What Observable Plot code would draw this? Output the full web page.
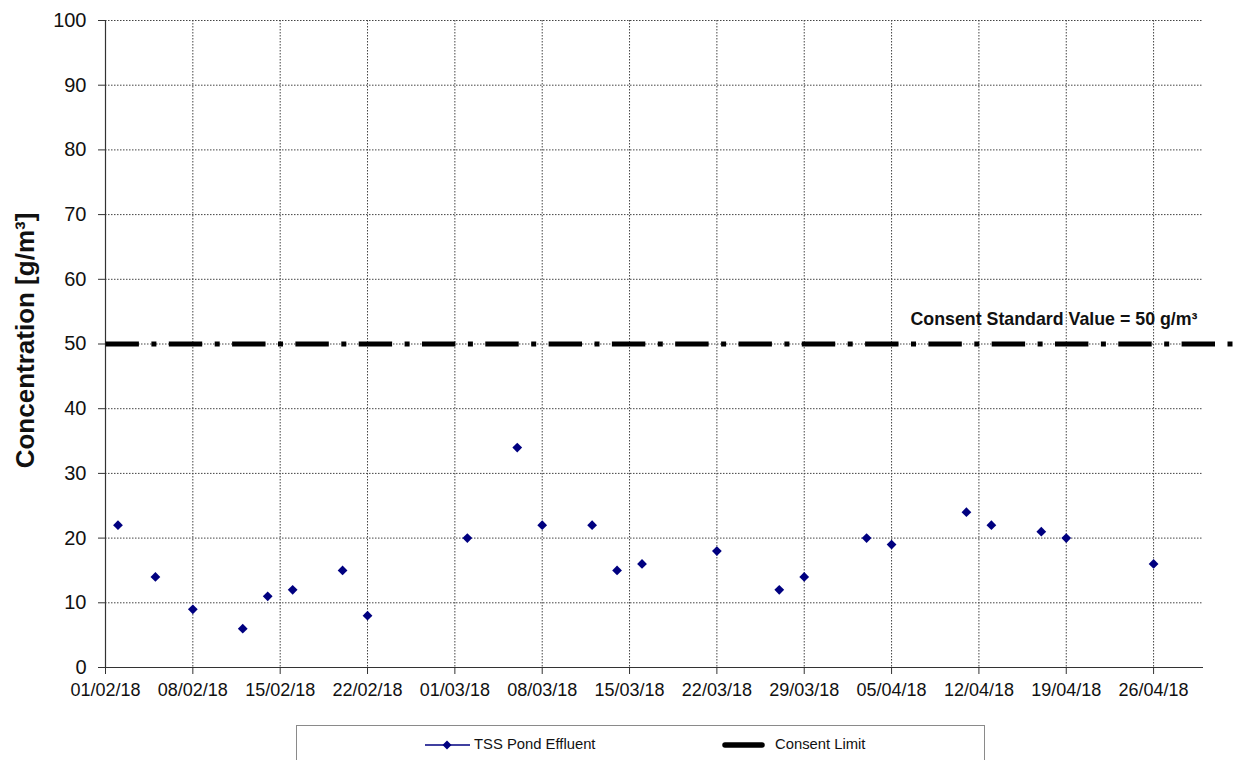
<!DOCTYPE html>
<html>
<head>
<meta charset="utf-8">
<script src="https://cdn.jsdelivr.net/npm/d3@7"></script>
<script src="https://cdn.jsdelivr.net/npm/@observablehq/plot@0.6"></script>
<style>
  html, body { margin: 0; padding: 0; background: #fff; overflow: hidden; }
  body { width: 1233px; height: 760px; position: relative; font-family: Arial, "Liberation Sans", sans-serif; }
  #chart svg { overflow: hidden; }
  #legend { position: absolute; left: 296px; top: 725px; width: 687px; height: 50px; border: 1px solid #8a8a8a; box-sizing: content-box; }
  #legend span { position: absolute; font-size: 14.8px; color: #111; white-space: nowrap; top: 10px; }
</style>
</head>
<body>
<div id="chart"></div>
<div id="legend">
  <svg style="position:absolute;left:127px;top:12px" width="48" height="14">
    <line x1="1" y1="7" x2="46" y2="7" stroke="#000080" stroke-width="1.6"></line>
    <path d="M23,2.5 L27.5,7 L23,11.5 L18.5,7 Z" fill="#000080"></path>
  </svg>
  <span style="left:177px">TSS Pond Effluent</span>
  <svg style="position:absolute;left:424px;top:12px" width="46" height="14">
    <line x1="4" y1="7" x2="41" y2="7" stroke="#000" stroke-width="5.5" stroke-linecap="round"></line>
  </svg>
  <span style="left:478px">Consent Limit</span>
</div>
<script>
// ---- data ----
const sampleDates = [
  "02/02/18", "05/02/18", "08/02/18", "12/02/18", "14/02/18", "16/02/18", "20/02/18", "22/02/18",
  "02/03/18", "06/03/18", "08/03/18", "12/03/18", "14/03/18", "16/03/18", "22/03/18", "27/03/18",
  "29/03/18", "03/04/18", "05/04/18", "11/04/18", "13/04/18", "17/04/18", "19/04/18", "26/04/18"
];
const tssValues = [
  22, 14, 9, 6, 11, 12, 15, 8,
  20, 34, 22, 22, 15, 16, 18, 12,
  14, 20, 19, 24, 22, 21, 20, 16
];
const xTickLabels = [
  "01/02/18", "08/02/18", "15/02/18", "22/02/18", "01/03/18", "08/03/18", "15/03/18",
  "22/03/18", "29/03/18", "05/04/18", "12/04/18", "19/04/18", "26/04/18"
];
const xDomainLabels = ["01/02/18", "30/04/18"];
const yTicks = [0, 10, 20, 30, 40, 50, 60, 70, 80, 90, 100];
const consentValue = 50;
const consentDates = ["01/02/18", "03/05/18"];
const consentLabel = "Consent Standard Value = 50 g/m³";
const yLabel = "Concentration [g/m³]";

// ---- build ----
const parse = d3.utcParse("%d/%m/%y");
const fmt = d3.utcFormat("%d/%m/%y");
const points = sampleDates.map((d, i) => ({date: parse(d), value: tssValues[i]}));
const xTicks = xTickLabels.map(parse);
const xDomain = xDomainLabels.map(parse);
const consent = consentDates.map(d => ({date: parse(d), value: consentValue}));

const gridStyle = {stroke: "#444", strokeOpacity: 1, strokeWidth: 1, strokeDasharray: "1.5,1.5"};

const chart = Plot.plot({
  width: 1233,
  height: 712,
  marginLeft: 105,
  marginRight: 30,
  marginTop: 20,
  marginBottom: 45,
  style: {fontFamily: "Arial, 'Liberation Sans', sans-serif", color: "#111", background: "#fff"},
  x: {type: "utc", domain: xDomain},
  y: {domain: [0, 100]},
  marks: [
    Plot.gridY(yTicks.slice(1), gridStyle),
    Plot.gridX(xTicks.slice(1), gridStyle),
    Plot.ruleY([0], {stroke: "#333", strokeWidth: 1.2}),
    Plot.ruleX([xDomain[0]], {stroke: "#333", strokeWidth: 1.2}),
    Plot.line(consent, {x: "date", y: "value", stroke: "#000", strokeWidth: 5, strokeLinecap: "butt", strokeDasharray: "33.4,12.5,5,12.4", strokeDashoffset: 0}),
    Plot.text([consentLabel], {frameAnchor: "right", y: () => consentValue, text: d => d, textAnchor: "end", lineAnchor: "middle", dx: -6, dy: -24.5, fontSize: 17.8, fontWeight: "bold", fill: "#111"}),
    Plot.dot(points, {x: "date", y: "value", symbol: "diamond2", r: 4.4, fill: "#000080", stroke: "none"}),
    Plot.axisY(yTicks, {tickSize: 7, tickPadding: 12, fontSize: 20, label: null, stroke: "#333"}),
    Plot.axisX(xTicks, {tickSize: 7, tickPadding: 9, fontSize: 18, label: null, tickFormat: fmt, stroke: "#333"}),
    Plot.text([yLabel], {frameAnchor: "left", text: d => d, rotate: -90, dx: -80, dy: -3.5, fontSize: 26, fontWeight: "bold", fill: "#111", textAnchor: "middle", lineAnchor: "middle"})
  ]
});
document.getElementById("chart").appendChild(chart);
</script>
</body>
</html>
